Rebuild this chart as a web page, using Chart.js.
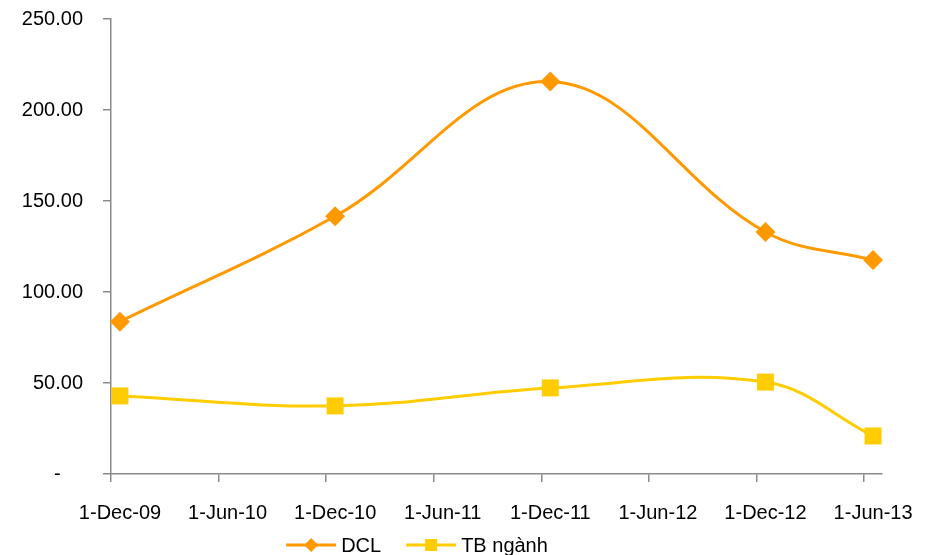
<!DOCTYPE html>
<html>
<head>
<meta charset="utf-8">
<script src="https://cdn.jsdelivr.net/npm/chart.js@4/dist/chart.umd.min.js"></script>
<style>
html,body{margin:0;padding:0;background:#ffffff;}
#wrap{width:933px;height:555px;position:relative;}
</style>
</head>
<body>
<div id="wrap"><canvas id="c" width="933" height="555"></canvas></div>
<script>
// ---- data ----
const tickLabels = ['1-Dec-09','1-Jun-10','1-Dec-10','1-Jun-11','1-Dec-11','1-Jun-12','1-Dec-12','1-Jun-13'];
const tickMonths = [0, 6, 12, 18, 24, 30, 36, 42];      // months after Dec-09
const pointMonths = [0, 12, 24, 36, 42];                 // Dec-09, Dec-10, Dec-11, Dec-12, Jun-13
const dclValues = [83.7, 141.6, 215.6, 133.0, 117.6];
const tbValues  = [42.9, 37.4, 47.3, 50.5, 20.9];
const seriesNames = ['DCL', 'TB ngành'];
const yTickValues = [0, 50, 100, 150, 200, 250];

// ---- style ----
const FONT_FAMILY = "'Liberation Sans', Arial, sans-serif";
const FONT_SIZE = 20;
const AXIS_COLOR = '#8a8a8a';
const ORANGE = '#FF9900';
const YELLOW = '#FFCC00';

function drawMarker(ctx, style, x, y, r, color) {
  ctx.fillStyle = color;
  ctx.beginPath();
  if (style === 'rectRot') {
    ctx.moveTo(x, y - r); ctx.lineTo(x + r, y); ctx.lineTo(x, y + r); ctx.lineTo(x - r, y);
  } else {
    ctx.rect(x - r, y - r, 2 * r, 2 * r);
  }
  ctx.closePath();
  ctx.fill();
}

const excelLegend = {
  id: 'excelLegend',
  afterDraw(chart) {
    const ctx = chart.ctx;
    ctx.save();
    ctx.font = FONT_SIZE + 'px ' + FONT_FAMILY;
    ctx.textBaseline = 'middle';
    const lineLen = 50, textGap = 5, itemGap = 25, centerX = 417, y = 545;
    const items = chart.data.datasets.map(ds => ({ ds, tw: ctx.measureText(ds.label).width }));
    const total = items.reduce((s, it) => s + lineLen + textGap + it.tw, 0) + itemGap * (items.length - 1);
    let x = centerX - total / 2;
    items.forEach(it => {
      const ds = it.ds;
      ctx.strokeStyle = ds.borderColor;
      ctx.lineWidth = 3;
      ctx.beginPath(); ctx.moveTo(x, y); ctx.lineTo(x + lineLen, y); ctx.stroke();
      drawMarker(ctx, ds.pointStyle, x + lineLen / 2, y, ds.pointStyle === 'rectRot' ? 7 : 6, ds.backgroundColor);
      ctx.fillStyle = '#000000';
      ctx.textAlign = 'left';
      ctx.fillText(ds.label, x + lineLen + textGap, y + 1);
      x += lineLen + textGap + it.tw + itemGap;
    });
    ctx.restore();
  }
};

const toPoints = vals => pointMonths.map((m, i) => ({ x: m, y: vals[i] }));
const zeroPad = s => { s.paddingTop = 0; s.paddingBottom = 0; s.paddingLeft = 0; s.paddingRight = 0; };

new Chart(document.getElementById('c'), {
  type: 'line',
  data: {
    datasets: [
      {
        label: seriesNames[0],
        data: toPoints(dclValues),
        borderColor: ORANGE,
        backgroundColor: ORANGE,
        borderWidth: 3,
        pointStyle: 'rectRot',
        pointRadius: 10,
        pointHoverRadius: 10,
        pointBorderWidth: 0,
        tension: 0.38,
        clip: false
      },
      {
        label: seriesNames[1],
        data: toPoints(tbValues),
        borderColor: YELLOW,
        backgroundColor: YELLOW,
        borderWidth: 3,
        pointStyle: 'rect',
        pointRadius: 12,
        pointHoverRadius: 12,
        pointBorderWidth: 0,
        tension: 0.38,
        clip: false
      }
    ]
  },
  options: {
    responsive: false,
    animation: false,
    devicePixelRatio: 1,
    layout: { padding: { top: 19, right: 51, bottom: 0, left: 0 } },
    plugins: {
      legend: { display: false },
      tooltip: { enabled: false }
    },
    font: { family: FONT_FAMILY },
    scales: {
      x: {
        type: 'linear',
        min: tickMonths[0] - 0.5,
        max: tickMonths[tickMonths.length - 1] + 0.5,
        afterBuildTicks: s => { s.ticks = tickMonths.map(m => ({ value: m - 0.5 })); },
        afterFit: s => { s.height = 81; zeroPad(s); },
        border: { display: true, color: AXIS_COLOR, width: 1.5 },
        grid: { display: true, drawOnChartArea: false, drawTicks: true, tickLength: 8, color: AXIS_COLOR, lineWidth: 1.5 },
        ticks: {
          autoSkip: false, maxRotation: 0, minRotation: 0,
          padding: 19,
          labelOffset: 9,
          color: '#000000',
          font: { family: FONT_FAMILY, size: FONT_SIZE },
          callback: (v, i) => tickLabels[i]
        }
      },
      y: {
        min: 0,
        max: 250,
        afterBuildTicks: s => { s.ticks = yTickValues.map(v => ({ value: v })); },
        afterFit: s => { s.width = 111; zeroPad(s); },
        border: { display: true, color: AXIS_COLOR, width: 1.5 },
        grid: { display: true, drawOnChartArea: false, drawTicks: true, tickLength: 8, color: AXIS_COLOR, lineWidth: 1.5 },
        ticks: {
          padding: 20,
          color: '#000000',
          font: { family: FONT_FAMILY, size: FONT_SIZE },
          callback: v => v === 0 ? '-    ' : v.toFixed(2)
        }
      }
    }
  },
  plugins: [excelLegend]
});
</script>
</body>
</html>
